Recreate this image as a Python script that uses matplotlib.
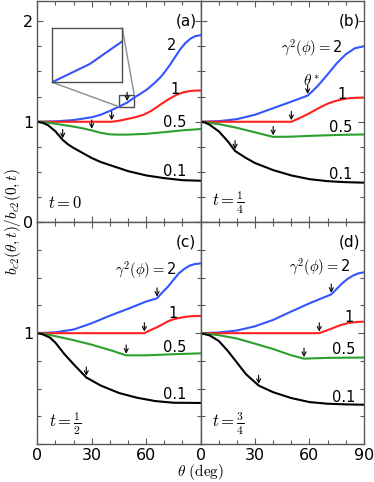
# -*- coding: utf-8 -*-
"""
b_c2(theta,t)/b_c2(0,t) 角度依赖图 (四个温度)
"""

import numpy as np
import matplotlib.pyplot as plt
from matplotlib.ticker import MultipleLocator
from mpl_toolkits.axes_grid1.inset_locator import mark_inset

# ---- 数据 ----
gammas = ["2", "1", "0.5", "0.1"]
t_labels = [r"$t=0$", r"$t=\frac{1}{4}$", r"$t=\frac{1}{2}$", r"$t=\frac{3}{4}$"]
panel_tags = ["(a)", "(b)", "(c)", "(d)"]

# (a) t = 0
th_a_2 = [0, 10, 20, 30, 35, 40, 45, 49.5, 53.4, 57, 60.4, 64, 67.8, 70.5, 73.3, 76, 78.8, 81.5, 84.4, 87, 90]
bc_a_2 = [1.0, 1.004, 1.017, 1.045, 1.07, 1.108, 1.15, 1.19, 1.24, 1.28, 1.32, 1.375, 1.44, 1.50, 1.57, 1.645, 1.72, 1.78, 1.825, 1.85, 1.86]
th_a_1 = [0, 41, 45, 49.4, 54, 58.6, 63, 67.8, 72, 77, 81, 84.4, 87, 90]
bc_a_1 = [1.0, 1.0, 1.01, 1.027, 1.045, 1.07, 1.11, 1.17, 1.22, 1.27, 1.295, 1.306, 1.31, 1.31]
th_a_05 = [0, 5, 10, 15, 20, 25, 30, 35, 40, 45, 50, 60, 70, 80, 90]
bc_a_05 = [1.0, 0.993, 0.98, 0.966, 0.952, 0.935, 0.914, 0.89, 0.875, 0.872, 0.873, 0.88, 0.897, 0.915, 0.928]
th_a_01 = [0, 3, 6, 10, 14, 17, 20, 25, 30, 35, 40, 50, 60, 70, 80, 90]
bc_a_01 = [1.0, 0.99, 0.965, 0.905, 0.82, 0.775, 0.74, 0.69, 0.64, 0.60, 0.57, 0.51, 0.467, 0.44, 0.42, 0.414]

# (b) t = 1/4
th_b_2 = [0, 10, 20, 30, 40, 50, 59, 62, 65, 70, 75, 80, 85, 90]
bc_b_2 = [1.0, 1.006, 1.026, 1.07, 1.135, 1.20, 1.26, 1.31, 1.365, 1.47, 1.58, 1.67, 1.73, 1.75]
th_b_1 = [0, 50, 55, 60, 65, 70, 75, 80, 85, 90]
bc_b_1 = [1.0, 1.0, 1.04, 1.085, 1.135, 1.18, 1.21, 1.23, 1.238, 1.24]
th_b_05 = [0, 10, 20, 30, 40, 50, 60, 70, 80, 90]
bc_b_05 = [1.0, 0.977, 0.94, 0.895, 0.85, 0.852, 0.86, 0.866, 0.871, 0.874]
th_b_01 = [0, 2.5, 5, 10, 15, 19, 25, 30, 40, 50, 60, 70, 80, 90]
bc_b_01 = [1.0, 0.993, 0.97, 0.905, 0.806, 0.71, 0.64, 0.59, 0.52, 0.467, 0.43, 0.41, 0.40, 0.395]

# (c) t = 1/2
th_c_2 = [0, 10, 20, 30, 40, 50, 60, 66, 69, 72, 75, 78, 81, 84, 87, 90]
bc_c_2 = [1.0, 1.008, 1.033, 1.09, 1.158, 1.22, 1.286, 1.315, 1.37, 1.42, 1.48, 1.54, 1.58, 1.61, 1.625, 1.63]
th_c_1 = [0, 59, 62, 66, 69, 72, 75, 78, 81, 84, 87, 90]
bc_c_1 = [1.0, 1.0, 1.025, 1.054, 1.08, 1.107, 1.125, 1.137, 1.146, 1.152, 1.155, 1.155]
th_c_05 = [0, 5, 10, 20, 30, 40, 49, 60, 75, 90]
bc_c_05 = [1.0, 0.99, 0.973, 0.937, 0.896, 0.848, 0.80, 0.80, 0.81, 0.818]
th_c_01 = [0, 2.5, 7, 10, 15, 20, 27, 35, 45, 55, 65, 75, 90]
bc_c_01 = [1.0, 0.993, 0.96, 0.914, 0.81, 0.72, 0.60, 0.527, 0.46, 0.417, 0.387, 0.372, 0.37]

# (d) t = 3/4
th_d_2 = [0, 10, 20, 30, 40, 50, 60, 72, 75, 78, 81, 84, 87, 90]
bc_d_2 = [1.0, 1.006, 1.024, 1.0625, 1.12, 1.196, 1.27, 1.35, 1.40, 1.45, 1.49, 1.52, 1.54, 1.55]
th_d_1 = [0, 65.4, 69, 72, 75, 78, 81, 84, 87, 90]
bc_d_1 = [1.0, 1.0, 1.022, 1.04, 1.06, 1.077, 1.09, 1.098, 1.102, 1.104]
th_d_05 = [0, 10, 20, 30, 40, 50, 57, 70, 90]
bc_d_05 = [1.0, 0.982, 0.952, 0.905, 0.857, 0.80, 0.77, 0.777, 0.78]
th_d_01 = [0, 5, 10, 15, 20, 25, 32, 40, 50, 60, 70, 80, 90]
bc_d_01 = [1.0, 0.98, 0.93, 0.84, 0.735, 0.63, 0.527, 0.467, 0.414, 0.378, 0.363, 0.357, 0.354]

# theta* (箭头位置), 顺序与 gammas 相同
star_a = [49.5, 41, 30, 14]
star_b = [59, 50, 40, 19]
star_c = [66, 59, 49, 27]
star_d = [72, 65.4, 57, 32]

# ---- 样式 ----
plt.rcParams["font.family"] = ["DejaVu Sans"]
plt.rcParams["mathtext.fontset"] = "cm"

colors = ["#3355ff", "#ff2020", "#2ca02c", "black"]
spine_col = "0.35"

panels = [
    ([(th_a_2, bc_a_2), (th_a_1, bc_a_1), (th_a_05, bc_a_05), (th_a_01, bc_a_01)], star_a),
    ([(th_b_2, bc_b_2), (th_b_1, bc_b_1), (th_b_05, bc_b_05), (th_b_01, bc_b_01)], star_b),
    ([(th_c_2, bc_c_2), (th_c_1, bc_c_1), (th_c_05, bc_c_05), (th_c_01, bc_c_01)], star_c),
    ([(th_d_2, bc_d_2), (th_d_1, bc_d_1), (th_d_05, bc_d_05), (th_d_01, bc_d_01)], star_d),
]

# 曲线标签位置 (theta, y)
label_pos = [
    [(74.2, 1.76), (76, 1.32), (75.5, 0.99), (75.5, 0.51)],
    [(61.3, 1.73), (77.8, 1.27), (77, 0.94), (77, 0.48)],
    [(59.5, 1.57), (75, 1.18), (75.5, 0.875), (75.5, 0.45)],
    [(65.4, 1.60), (81.9, 1.146), (79, 0.854), (79, 0.42)],
]

fig, axes = plt.subplots(2, 2, figsize=(3.74, 4.82), dpi=100)
fig.subplots_adjust(left=0.0997, right=0.973, top=0.998, bottom=0.079,
                    wspace=0, hspace=0)

for k, ax in enumerate(axes.flat):
    row, col = divmod(k, 2)
    curves, stars = panels[k]

    for (th, bc), c, ts in zip(curves, colors, stars):
        ax.plot(th, bc, color=c, lw=1.5)
        # theta* 处的小箭头
        y_star = np.interp(ts, th, bc)
        ax.annotate("", xy=(ts, y_star), xytext=(0, 7.5), textcoords="offset points",
                    arrowprops=dict(arrowstyle="->,head_length=0.35,head_width=0.18",
                                    mutation_scale=8, lw=0.8, color="k",
                                    shrinkA=0, shrinkB=1.2))

    for i, (g, (x, y)) in enumerate(zip(gammas, label_pos[k])):
        txt = g
        if i == 0 and k > 0:
            txt = r"$\gamma^2(\phi)=$" + "2"
        ax.text(x, y, txt, ha="center", va="center", fontsize=10.5)

    ax.text(0.91, 0.91, panel_tags[k], transform=ax.transAxes,
            ha="center", va="center", fontsize=11)
    ax.text(0.17, 0.09, t_labels[k], transform=ax.transAxes,
            ha="center", va="center", fontsize=12)

    ax.set_xlim(0, 90)
    ax.set_ylim(0, 2.2 if row == 0 else 2.0)
    ax.set_xticks([0, 30, 60, 90])
    ax.xaxis.set_minor_locator(MultipleLocator(10))
    ax.set_yticks([0, 1, 2])
    ax.yaxis.set_minor_locator(MultipleLocator(0.25))

    # 刻度标签
    if row == 1:
        ax.set_xticklabels(["0", "30", "60", "90" if col == 1 else ""])
    else:
        ax.set_xticklabels([])
    if col == 0:
        ax.set_yticklabels(["0", "1", "2"] if row == 0 else ["", "1", ""])
    else:
        ax.set_yticklabels([])

    ax.tick_params(which="both", direction="in", top=True, right=True,
                   color=spine_col, labelsize=11.5, pad=3)
    ax.tick_params(which="major", length=4, width=0.8)
    ax.tick_params(which="minor", length=3, width=0.8)
    for s in ax.spines.values():
        s.set_color(spine_col)
        s.set_linewidth(1.0)

    if k == 1:
        ax.text(61, 1.41, r"$\theta^*$", ha="center", va="center", fontsize=11)

# (a) 中的放大插图
ax_a = axes[0, 0]
axins = ax_a.inset_axes([0.09, 0.633, 0.43, 0.246])
axins.plot(th_a_2, bc_a_2, color=colors[0], lw=1.5)
axins.set_xlim(45, 53.4)
axins.set_ylim(1.15, 1.27)
axins.set_xticks([])
axins.set_yticks([])
for s in axins.spines.values():
    s.set_color("0.3")
    s.set_linewidth(1.0)
pp, p1, p2 = mark_inset(ax_a, axins, loc1=1, loc2=3, fc="none", ec="0.3", lw=1.0)
p1.set_color("0.55")
p2.set_color("0.55")

fig.text(0.035, 0.54, r"$b_{c2}(\theta,t)/b_{c2}(0,t)$", rotation=90,
         ha="center", va="center", fontsize=11)
fig.text(0.537, 0.021, r"$\theta\ (\mathrm{deg})$", ha="center", va="center",
         fontsize=11)

plt.savefig("out.png", dpi=100)
